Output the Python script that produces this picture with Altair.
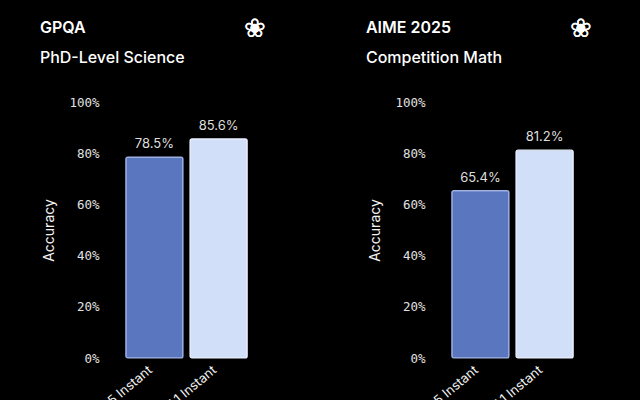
import altair as alt
import pandas as pd

models = ["GPT-5 Instant", "GPT-5.1 Instant"]
gpqa_scores = [78.5, 85.6]
aime_scores = [65.4, 81.2]
bar_fill = ["#5a76bf", "#d2dff8"]
bar_stroke = ["#a3b4e4", "#eaf0fd"]
y_ticks = [0, 20, 40, 60, 80, 100]

SANS = "Inter"
MONO = "DejaVu Sans Mono"


def panel(title, subtitle, scores):
    df = pd.DataFrame({"model": models, "score": scores})
    df["label"] = [f"{v:.1f}%" for v in scores]
    base = alt.Chart(df).encode(
        x=alt.X("model:N", sort=models,
                scale=alt.Scale(paddingInner=0.11, paddingOuter=0.2),
                axis=alt.Axis(title=None, labelAngle=-40, labelAlign="right",
                              labelBaseline="middle", labelFont=SANS, labelFontSize=13,
                              labelColor="#f0f0f0", ticks=False, domain=False,
                              labelPadding=10, labelOffset=-4)),
        y=alt.Y("score:Q", scale=alt.Scale(domain=[0, 100]),
                axis=alt.Axis(title="Accuracy", values=y_ticks,
                              labelExpr="datum.value + '%'", grid=False, ticks=False,
                              domain=False, labelFont=MONO, labelFontSize=12.5,
                              labelColor="#e2e2e2", labelPadding=14,
                              titleFont=SANS, titleFontSize=14, titleFontWeight="normal",
                              titleColor="#f2f2f2", titlePadding=12)),
    )
    bars = base.mark_bar(cornerRadius=2, strokeWidth=1.2).encode(
        color=alt.Color("model:N", scale=alt.Scale(domain=models, range=bar_fill), legend=None),
        stroke=alt.Stroke("model:N", scale=alt.Scale(domain=models, range=bar_stroke), legend=None),
    )
    text = base.mark_text(baseline="bottom", dy=-6, font=SANS, fontSize=13,
                          color="#dedede").encode(text="label:N")
    logo = alt.Chart(df).mark_text(text="❀", fontSize=26, color="#ffffff",
                                   font="DejaVu Sans").encode(
        x=alt.value(142), y=alt.value(-73))
    return alt.layer(bars, text, logo).properties(
        width=147, height=256,
        title=alt.TitleParams(text=title, subtitle=subtitle, anchor="start",
                              frame="bounds", font=SANS, fontSize=16, fontWeight=600,
                              color="#ffffff", subtitleFont=SANS, subtitleFontSize=16,
                              subtitleFontWeight=500, subtitleColor="#ffffff",
                              subtitlePadding=14, offset=-50, dx=-3),
    )


chart = alt.hconcat(
    panel("GPQA", "PhD-Level Science", gpqa_scores),
    panel("AIME 2025", "Competition Math", aime_scores),
    spacing=99,
).properties(
    background="#000000", padding={"left": 39, "top": 16, "right": 48, "bottom": 0}
).configure_view(stroke=None)

chart.save("out.html", embed_options={"renderer": "svg", "actions": False})
